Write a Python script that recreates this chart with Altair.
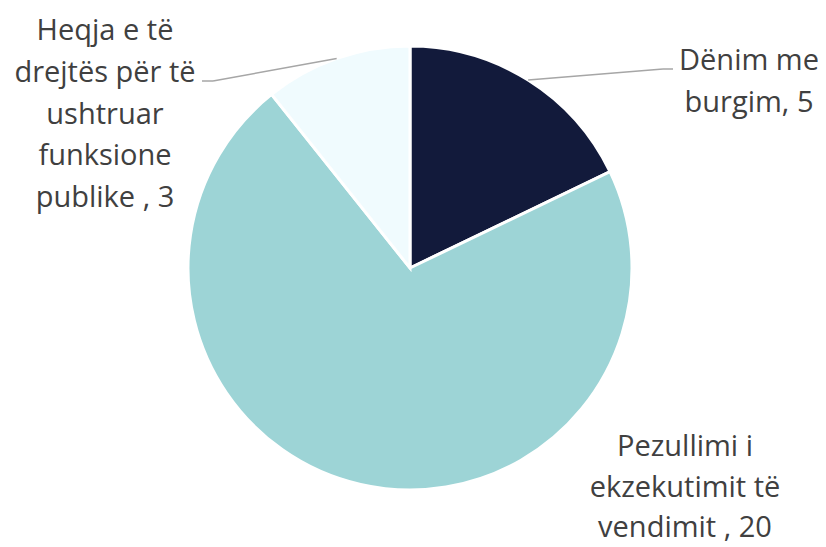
import math
import altair as alt
import pandas as pd

categories = ["Dënim me burgim", "Pezullimi i ekzekutimit të vendimit", "Heqja e të drejtës për të ushtruar funksione publike"]
values = [5, 20, 3]
label_lines = [
    ["Dënim me", "burgim, 5"],
    ["Pezullimi i", "ekzekutimit të", "vendimit , 20"],
    ["Heqja e të", "drejtës për të", "ushtruar", "funksione", "publike , 3"],
]
colors = ["#121a3b", "#9dd4d6", "#f0fbfe"]

# layout (page pixel coordinates)
M = 8
CX, CY, R = 410 - M, 268 - M, 222
label_anchor = [(749, 70), (685, 456), (105, 40)]  # center x, first-line baseline y
LH = [41.8, 40.5, 41.8]
elbows = [[(663, 69), (673, 69)], None, [(213, 81), (202, 81)]]

df = pd.DataFrame({"cat": categories, "value": values, "order": [0, 1, 2]})

pie = alt.Chart(df).mark_arc(outerRadius=R, stroke="white", strokeWidth=3).encode(
    theta=alt.Theta("value:Q", stack=True),
    order=alt.Order("order:Q"),
    color=alt.Color("cat:N", scale=alt.Scale(domain=categories, range=colors), legend=None),
    x=alt.value(CX),
    y=alt.value(CY),
)

rows = []
for i, lines in enumerate(label_lines):
    ax, ay = label_anchor[i]
    for j, t in enumerate(lines):
        rows.append({"t": t, "x": ax - M, "y": ay - M + j * LH[i]})
tdf = pd.DataFrame(rows)
text = alt.Chart(tdf).mark_text(
    font="Open Sans", fontSize=29, color="#404040", align="center", baseline="alphabetic"
).encode(
    x=alt.X("x:Q", scale=None), y=alt.Y("y:Q", scale=None), text="t:N"
)

total = sum(values)
segs = []
cum = 0
for i, v in enumerate(values):
    mid = (cum + v / 2) / total * 2 * math.pi
    cum += v
    if elbows[i] is None:
        continue
    pts = [(CX + R * math.sin(mid), CY - R * math.cos(mid))] + [(px - M, py - M) for px, py in elbows[i]]
    for k in range(len(pts) - 1):
        segs.append({"x": pts[k][0], "y": pts[k][1], "x2": pts[k + 1][0], "y2": pts[k + 1][1]})
ldf = pd.DataFrame(segs)
leaders = alt.Chart(ldf).mark_rule(color="#a6a6a6", strokeWidth=1.5).encode(
    x=alt.X("x:Q", scale=None), y=alt.Y("y:Q", scale=None),
    x2="x2:Q", y2="y2:Q",
)

chart = alt.layer(pie, leaders, text).properties(
    width=810, height=539, padding=0, autosize=alt.AutoSizeParams(type="none")
).configure_view(stroke=None).resolve_scale(color="independent")

chart.save("out.html", embed_options={"renderer": "svg", "actions": False})
